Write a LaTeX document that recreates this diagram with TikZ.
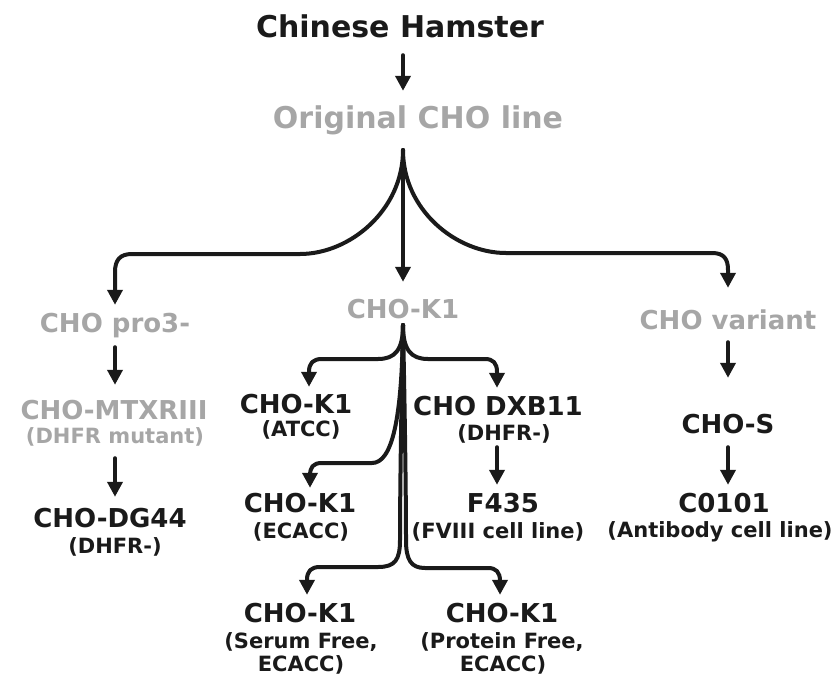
\documentclass[tikz,border=0pt]{standalone}
\usepackage{fontspec}
\setmainfont{DejaVu Sans}
\usetikzlibrary{arrows.meta}
\definecolor{inkb}{RGB}{26,26,26}
\definecolor{inkg}{RGB}{166,166,166}
\tikzset{
  lbl/.style={inner sep=0pt, anchor=base, font=\bfseries},
  ttlb/.style={lbl, text=inkb, font=\bfseries\fontsize{30}{32}\selectfont, text height=22pt, text depth=0pt},
  ttlg/.style={lbl, text=inkg, font=\bfseries\fontsize{30}{32}\selectfont, text height=22pt, text depth=0pt},
  mainb/.style={lbl, text=inkb, font=\bfseries\fontsize{26}{28}\selectfont, text height=19pt, text depth=0pt},
  maing/.style={lbl, text=inkg, font=\bfseries\fontsize{26}{28}\selectfont, text height=19pt, text depth=0pt},
  subb/.style={lbl, text=inkb, font=\bfseries\fontsize{21}{23}\selectfont, text height=15pt, text depth=0pt},
  subg/.style={lbl, text=inkg, font=\bfseries\fontsize{21}{23}\selectfont, text height=15pt, text depth=0pt},
  arr/.style={draw=inkb, line width=4pt, line cap=round, line join=round,
              -{Triangle[length=15pt,width=15pt]}},
}
\begin{document}
\begin{tikzpicture}[x=1pt,y=-1pt]
\useasboundingbox (0,0) rectangle (837,675);
% labels
\node[ttlb] (title) at (400,37) {Chinese Hamster};
\node[ttlg] (orig) at (418,128) {Original CHO line};
\node[maing] (pro3) at (115,332) {CHO pro3-};
\node[maing] (k1) at (403,318) {CHO-K1};
\node[maing] (var) at (728,329) {CHO variant};
\node[maing] (mtx) at (114,419) {CHO-MTXRIII};
\node[subg] (mtxs) at (115,443) {(DHFR mutant)};
\node[mainb] (dg44) at (110,527) {CHO-DG44};
\node[subb] (dg44s) at (115,553) {(DHFR-)};
\node[mainb] (atcc) at (296,413) {CHO-K1};
\node[subb] (atccs) at (301,436) {(ATCC)};
\node[mainb] (dxb) at (498,415) {CHO DXB11};
\node[subb] (dxbs) at (504,440) {(DHFR-)};
\node[mainb] (chos) at (728,433) {CHO-S};
\node[mainb] (c0101) at (724,512) {C0101};
\node[subb] (c0101s) at (720,537) {(Antibody cell line)};
\node[mainb] (ecacc) at (300,512) {CHO-K1};
\node[subb] (ecaccs) at (301,538) {(ECACC)};
\node[mainb] (f435) at (503,512) {F435};
\node[subb] (f435s) at (498,538) {(FVIII cell line)};
\node[mainb] (bl) at (300,622) {CHO-K1};
\node[subb] (bls1) at (301,648) {(Serum Free,};
\node[subb] (bls2) at (301,671) {ECACC)};
\node[mainb] (br) at (502,622) {CHO-K1};
\node[subb] (brs1) at (502,648) {(Protein Free,};
\node[subb] (brs2) at (503,671) {ECACC)};
% column and fork coordinates
\coordinate (fA) at (403,150);
\coordinate (fB) at (403,325);
\coordinate (xM) at (403,0);
\coordinate (xL) at (115,0);
\coordinate (xR) at (728,0);
\coordinate (xA) at (309,0);
\coordinate (xD) at (497,0);
\coordinate (xE) at (310,0);
\coordinate (xBL) at (307,0);
\coordinate (xBR) at (500,0);
% connectors
\draw[arr, shorten <=18pt, shorten >=15pt] (xM |- title.south) -- (xM |- orig.north);
\draw[arr, shorten >=8pt] (fA) .. controls (403,210) and (350,254) .. (300,254) -- (132,254)
   .. controls (120,254) and (115,260) .. (115,272) -- (xL |- pro3.north);
\draw[arr, shorten >=22pt] (fA) .. controls (403,210) and (456,253) .. (506,253) -- (712,253)
   .. controls (724,253) and (728,259) .. (728,270) -- (xR |- var.north);
\draw[arr, shorten >=17pt] (fA) -- (xM |- k1.north);
\draw[arr, shorten >=7pt] (fB) .. controls (403,350) and (395,359) .. (378,359) -- (322,359)
   .. controls (313,359) and (309,363) .. (309,372) -- (xA |- atcc.north);
\draw[arr, shorten >=8pt] (fB) .. controls (403,350) and (411,359) .. (428,359) -- (485,359)
   .. controls (493,359) and (497,363) .. (497,372) -- (xD |- dxb.north);
\draw[arr, shorten >=5pt] (fB) .. controls (402,420) and (392,463) .. (372,463) -- (322,463)
   .. controls (313,463) and (310,467) .. (310,476) -- (xE |- ecacc.north);
\draw[arr, shorten >=8pt] (fB) .. controls (401,420) and (400,500) .. (400,540)
   .. controls (400,560) and (395,567) .. (378,567) -- (320,567)
   .. controls (311,567) and (307,571) .. (307,580) -- (xBL |- bl.north);
\draw[arr, shorten >=8pt] (fB) .. controls (405,420) and (406,500) .. (406,540)
   .. controls (406,560) and (411,568) .. (425,568) -- (488,568)
   .. controls (496,568) and (500,572) .. (500,581) -- (xBR |- br.north);
\draw[arr, shorten <=15pt, shorten >=15pt] (xL |- pro3.south) -- (xL |- mtx.north);
\draw[arr, shorten <=15pt, shorten >=11pt] (xL |- mtxs.south) -- (xL |- dg44.north);
\draw[arr, shorten <=7pt, shorten >=8pt] (xD |- dxbs.south) -- (xD |- f435.north);
\draw[arr, shorten <=13pt, shorten >=36pt] (xR |- var.south) -- (xR |- chos.north);
\draw[arr, shorten <=14pt, shorten >=8pt] (xR |- chos.south) -- (xR |- c0101.north);
\end{tikzpicture}
\end{document}
